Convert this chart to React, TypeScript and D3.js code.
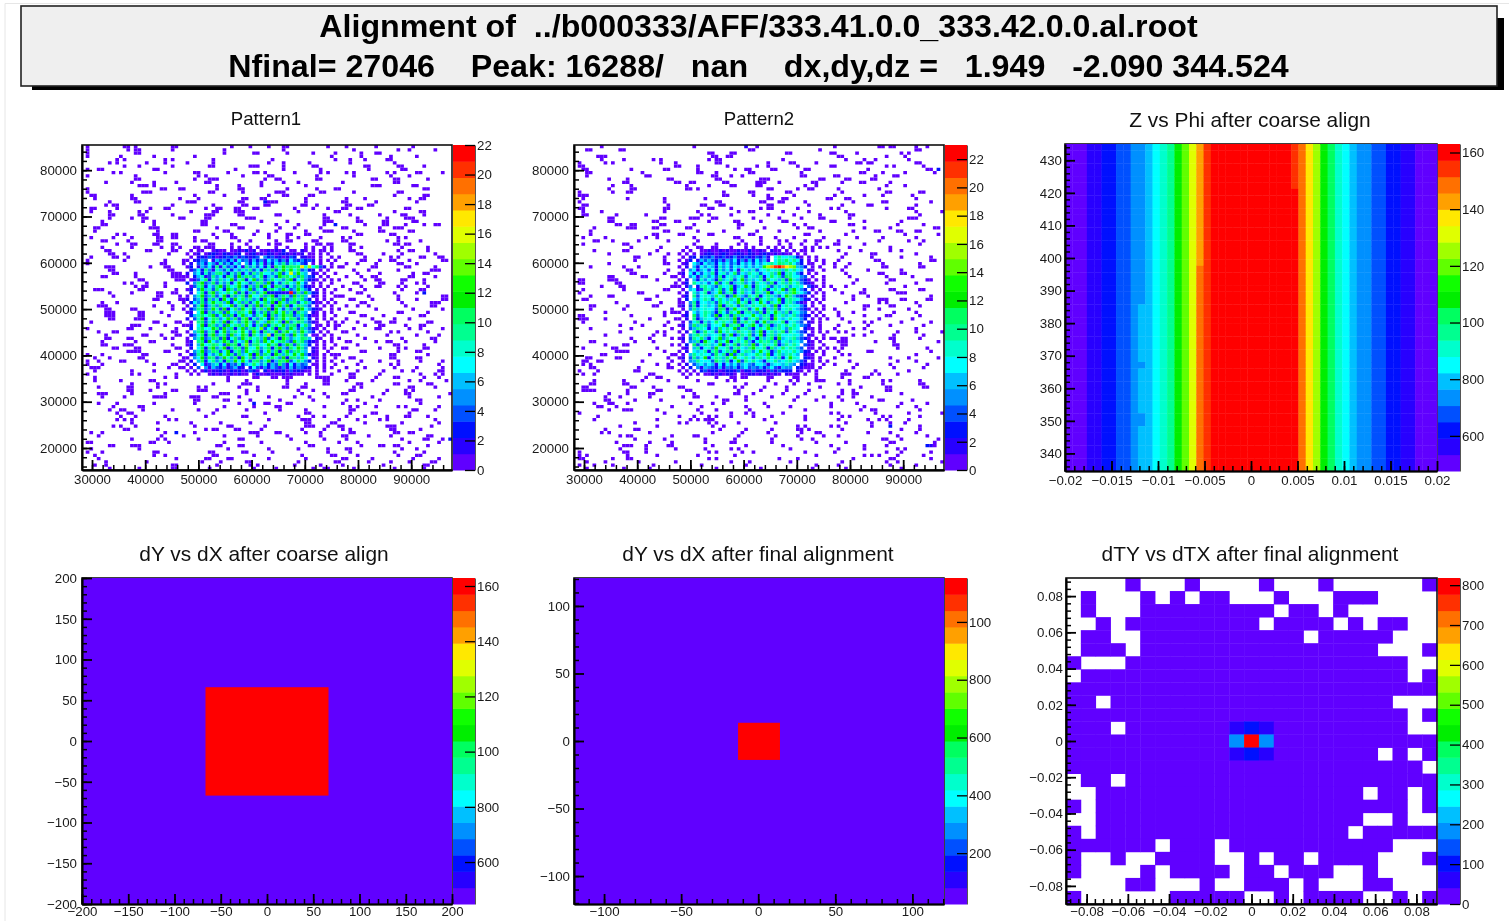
import React, { useRef, useEffect } from 'react'
import * as d3 from 'd3'

// ROOT rainbow palette, bottom band to top band
const bandColors = ['#6000ff', '#2800ff', '#0010ff', '#0050ff', '#0090ff', '#00c0ff', '#00ffff', '#00ffcc', '#00ff90', '#00ff60',
  '#00ee00', '#10ff00', '#60ff00', '#a0ff00', '#e0ff00', '#ffe800', '#ffa000', '#ff7000', '#ff3000', '#ff0000']

const titleLines = ['Alignment of  ../b000333/AFF/333.41.0.0_333.42.0.0.al.root',
  'Nfinal= 27046    Peak: 16288/   nan    dx,dy,dz =   1.949   -2.090 344.524']

const patternXTicks = [30000, 40000, 50000, 60000, 70000, 80000, 90000]
const patternYTicks = [20000, 30000, 40000, 50000, 60000, 70000, 80000]
const pattern1BarTicks = [0, 2, 4, 6, 8, 10, 12, 14, 16, 18, 20, 22]
const pattern2BarTicks = [0, 2, 4, 6, 8, 10, 12, 14, 16, 18, 20, 22]

// scattered single counts: one list of columns per row, top row first
const pattern1Sparse = [
  [1,11,12,14,24,25,40,45,50,54,55,66,71,79,89],[1,12,14,15,24,38,54,73,85,88,95],
  [1,14,15,38,46,47,55,62,68,75,79,80],[1,10,19,30,67,75,83,90],
  [9,11,22,24,35,51,68,72,76,82,83],[7,9,17,22,28,35,50,54,61,72,84],
  [11,15,24,34,35,45,46,47,54,62,63,76,77,85,86,92],[1,4,5,19,20,41,54,64,77,86,87],
  [8,10,22,30,31,39,46,47,49,57,64,66,71,73,82,84,90,91,97],[1,14,31,33,43,50,51,63,73,83,88],
  [14,15,30,34,35,36,49,52,53,63,64,78,79,84,85,93],[6,13,19,25,33,34,48,54,58,70,84,85],
  [15,16,17,19,36,42,48,60,78,79,80,89,90],[1,21,22,26,27,36,42,43,55,63,68,69,92,93],
  [1,16,17,18,34,35,43,52,53,54,64,65,73,85,86],[2,3,13,30,38,50,54,55,61,62,84,92,93],
  [3,13,14,26,31,43,44,48,49,60,71,76,88,91,92],[7,14,15,28,29,30,42,43,50,51,52,60,70,71,79,90],
  [6,8,9,24,35,43,44,49,50,59,60,63,71,72,77,78],[2,3,9,18,22,23,33,36,37,41,42,46,47,57,62,66,70,71,74,75,87,88],
  [2,7,15,17,29,35,36,41,42,43,58,68,69,84,91,92],[7,8,15,16,24,33,34,35,42,43,52,53,65,72,80,86,87,92],
  [7,13,16,17,26,27,33,34,44,45,46,65,66,74,82,87,88,89],[5,16,19,32,33,48,55,65,66,67,74,75,81,82,89,90],
  [5,6,19,32,33,40,41,52,58,65,76,81,82,87,92,95,96],[3,4,18,19,20,36,42,43,53,57,64,70,71,80,84,85,86],
  [3,20,30,31,38,39,47,52,60,65,66,67,73,80,81,88,89],[9,11,19,20,24,25,35,40,46,50,55,56,60,61,74,75,83,84],
  [2,8,13,20,21,24,25,30,36,40,41,50,55,58,64,70,72,85,87],[5,6,12,20,21,30,32,33,42,45,52,55,56,62,63,70,71,82,85,91],
  [9,13,14,19,20,24,25,34,35,40,44,50,52,53,60,63,64,66,67,72,73,84,85,87,88],[5,13,21,24,26,30,31,33,34,35,40,42,45,47,52,55,60,62,65,67,72,75,86,93],
  [6,7,17,18,24,25,72,73,85,88,89,93],[7,8,11,23,74,75,81,86,95],
  [2,8,9,12,69,76,83,85,91,92,96,97],[1,11,22,27,75,76,80,83,84,88,97,98],
  [1,21,22,27,71,74,79,85,86,90],[6,7,8,18,22,23,69,70,78,79,87,88,95],
  [7,8,23,24,73,77,85,94,95,96],[8,9,14,24,25,26,68,74,80,89,92,93],
  [5,6,14,24,25,26,27,71,75,78,79,88,89,95],[15,16,25,26,27,69,76,79,80,86,87,92],
  [11,13,17,22,73,74,80,81,86,90,92],[14,16,17,22,70,75,79,80,85,87,93],
  [3,4,5,15,16,25,68,72,76,86,91,92],[7,13,20,21,24,25,74,75,84,90],
  [8,20,21,26,69,70,77,85,97,98],[19,20,26,27,72,73,78,85,90,97,98],
  [5,9,23,27,68,75,76,86,94,95,96],[4,5,6,19,24,71,74,77,87,94,95],
  [6,7,13,14,24,27,69,79,89,97],[6,7,8,15,16,21,72,73,85,86,93],
  [6,7,8,15,16,23,68,75,76,81,91,92],[7,8,14,15,16,71,78,84,88],
  [2,19,20,25,26,70,74,79,80,83,84,93,94],[13,14,15,22,27,68,69,76,80,81,87,91,92],
  [1,12,13,18,25,73,79,80,88,91,97],[4,8,9,24,25,70,71,83,85,93],
  [6,16,17,21,25,26,67,74,82,90,96],[6,7,12,13,22,24,69,76,86,94,95],
  [5,14,18,19,28,71,72,79,82,83,87,95],[5,6,11,12,13,24,68,74,84,85,92],
  [8,9,14,15,25,26,70,71,80,85,87,92,93],[12,13,14,15,22,23,75,76,85,90,91],
  [1,5,16,17,26,68,69,83,84,93],[3,7,15,16,27,28,72,73,83,84,90,91],
  [1,4,10,11,17,26,27,70,75,80,85,91,97],[1,5,19,24,25,68,74,83,85,96],
  [2,3,4,23,26,27,71,76,84,90,97],[3,13,19,69,74,81,86,89,96,97],
  [1,13,15,25,72,73,80,91,95,97],[3,22,25,39,46,47,51,52,54,55,56,63,64,65,66,72,73,79,84,85,92,96],
  [3,10,18,19,39,44,55,65,66,71,78,88,91,98],[13,20,22,35,43,44,45,55,60,65,66,74,75,84,85,93,94],
  [4,12,13,20,31,33,42,47,54,55,59,60,73,75,88,89,95],[12,13,18,24,25,31,32,33,44,47,58,62,72,73,82,87,89],
  [4,5,6,13,22,37,38,39,44,59,65,70,71,81,87,88,99],[5,11,19,20,21,22,29,30,31,35,36,42,50,57,61,66,78,88,96],
  [30,31,38,39,45,53,62,71,74,80,90,91],[4,9,19,30,42,49,50,55,56,70,76,91],
  [8,15,16,38,46,52,53,65,72,74,79,85,87,96],[7,10,11,16,24,31,36,44,53,60,72,73,89,90,95],
  [9,12,13,35,49,60,61,72,78,79,88],[10,14,22,33,43,44,58,62,65,71,76,82,87,88,93],
  [9,11,13,23,25,50,59,60,61,69,74,80,82,95],[13,20,29,37,45,60,61,67,68,76,86,96],
  [8,10,14,30,39,40,49,60,61,62,66,69,70,82,83,84,94],[11,12,20,33,35,36,41,42,48,59,65,70,72,83,84,91],
  [2,5,22,30,45,46,47,52,53,60,64,72,73,84,85,88,89],[4,21,27,38,47,55,64,70,71,77,83,93,94],
  [13,20,22,31,42,43,56,65,71,86,92,93,97],[1,2,18,19,23,38,48,60,69,74,88,96],
  [7,8,13,14,15,36,37,42,43,61,62,75,80,81,84,85,93],[2,15,39,50,58,66,71,72,86,90],
  [1,5,19,20,34,35,43,44,51,66,72,84,92],[3,19,22,35,36,46,59,67,68,74,85,90,91],
  [4,25,33,34,39,40,50,60,70,71,78,89,96],[6,17,32,37,44,45,58,68,69,77,83,88,94,95],
  [3,6,24,25,36,45,47,57,64,70,81,92,93],[7,15,24,25,34,46,52,62,65,66,73,84,92],
]
const pattern2Sparse = [
  [7,32,46,49,70,82,83,85,86,92,95],[3,4,12,13,47,48,66,92,93],
  [36,37,42,43,57,58,69,70,76,88,90],[6,7,8,37,38,41,42,71,72,84,89],
  [7,13,21,23,36,38,39,56,73,78,81,90],[1,8,10,23,27,38,39,52,58,59,65,76,77,79,80,92,93],
  [1,2,27,28,33,41,49,52,60,69,70,84,86,94],[2,3,15,24,25,33,43,46,47,53,54,62,63,79,95,96],
  [3,4,18,33,34,38,47,48,61,77,78,83,89,97],[3,19,20,37,38,42,45,61,62,70,71,81,86,87],
  [9,14,25,26,38,39,50,51,52,66,67,73,74,80,81],[13,14,27,28,31,32,40,41,49,50,51,55,64,65,72,77,78,85],
  [10,15,30,36,42,43,49,50,62,65,84,89],[9,15,16,30,31,33,52,53,60,63,64,71,82],
  [1,10,14,15,40,47,48,57,58,72,84,85,93,94],[1,2,3,40,41,48,52,59,70,78,83,91],
  [2,14,24,35,52,53,56,57,68,69,73,74,92],[1,24,38,39,50,51,55,56,62,75,83,84,96],
  [2,3,25,34,35,39,40,52,53,63,72,79,80,92],[1,2,24,25,36,37,42,50,52,53,60,69,71,84,90,91],
  [2,7,24,33,44,47,48,56,63,73,92,99],[2,3,11,19,34,36,42,52,59,66,74,75,93],
  [9,10,23,24,31,32,33,37,38,48,55,61,66,67,74,90,91,92],[9,10,21,22,27,28,36,43,44,50,56,57,69,70,78,88],
  [11,12,15,16,23,24,32,44,45,59,62,74,75,87,94],[5,14,15,16,21,22,30,31,44,51,60,63,64,78,85,97,98],
  [4,24,25,33,40,49,55,66,75,81,82,87,88,92,93],[4,21,22,28,29,36,37,47,48,62,63,73,89,98],
  [2,8,19,22,32,43,44,50,54,59,67,76,83,92],[5,6,10,17,25,33,45,50,55,57,62,65,66,71,82,90,94],
  [2,13,14,32,38,44,46,50,55,58,61,65,70,71,78,93],[15,23,30,33,34,37,38,42,46,48,52,54,56,58,62,64,66,68,74,85],
  [5,13,14,22,71,77,85,88],[9,20,25,73,80,81,92],
  [16,17,24,72,80,88,96],[16,24,71,81,82,96,97],
  [9,24,25,70,74,83,93],[4,13,17,70,73,83,84,93,94],
  [14,15,25,72,79,88],[15,16,24,73,82,83,88,89],
  [9,10,18,19,26,27,74,84,91],[1,2,9,10,11,22,76,85,86,95,96],
  [1,2,11,12,27,75,84,92],[7,12,13,26,27,69,73,89],
  [2,13,24,25,70,78,85,86,93,94],[1,17,18,72,77,78,87,88,89],
  [4,9,10,22,75,79,96],[2,3,19,20,75,82,83,84,88,89,95,96],
  [11,23,28,29,73,82,84,92],[4,5,14,21,22,78,79,85,86,93],
  [4,13,26,70,78,82,90],[8,24,26,27,71,75,86,92],
  [1,2,15,24,71,78,84,85,93],[1,2,3,8,20,27,28,72,82,91],
  [2,16,25,74,78,80,88,96],[12,18,24,71,79,85,94],
  [4,15,26,70,75,78,92],[12,22,24,71,73,80,87,92,99],
  [8,21,24,75,78,86,94],[15,20,26,69,70,72,73,85,86,93],
  [4,5,16,21,71,72,73,81,86,98],[8,13,14,26,72,73,86,87],
  [2,10,11,22,70,72,87,95],[11,12,13,14,24,71,79,80,96],
  [7,8,20,26,27,72,74,92],[3,4,11,12,25,70,85,90,98],
  [2,3,6,7,18,26,74,87,92],[2,4,22,25,70,76,85,95],
  [4,5,17,25,26,75,86,94],[1,6,16,17,28,73,81,90],
  [2,5,20,21,72,73,74,80,82,87],[19,22,23,30,38,42,43,45,46,52,53,59,60,65,72,78,79],
  [5,13,18,25,33,41,43,52,58,60,65,66,67,74,83,85,93],[4,5,13,14,36,37,46,54,59,63,71,74,83,93,94],
  [2,3,15,16,21,28,29,43,45,51,57,66,77,84,85,94,95],[2,3,4,5,14,22,23,30,31,44,50,57,63,72,75,84,85],
  [9,14,20,21,32,43,44,48,56,62,72,75,76,88],[8,12,20,29,32,33,38,46,53,60,67,71,75,80],
  [8,9,16,23,40,41,46,59,65,72,82,83,91],[5,9,10,14,31,37,40,51,69,76,88,95],
  [6,7,11,26,34,46,52,58,69,78,87,92],[9,13,14,15,22,33,38,47,62,77,80,81,93],
  [1,24,34,42,46,48,56,69,71,81,90,99],[6,28,32,36,38,42,48,53,62,72,74,83,85,93],
  [5,22,31,33,35,36,37,51,62,71,79,82,84,90],[16,28,30,36,38,44,54,73,80,85,89],
  [12,22,37,40,60,62,69,71,80,93],[8,16,17,39,46,53,60,61,63,72,88,93],
  [7,9,20,37,45,52,61,65,66,79,85,92],[12,14,15,26,32,33,44,54,60,67,71,87,95],
  [16,24,35,43,53,61,64,83,84,88,98],[11,20,26,35,42,43,53,65,73,85,86,97],
  [13,14,15,19,25,26,37,46,56,69,78,84,96,97],[12,19,27,35,42,44,58,71,78,87,89],
  [1,13,14,19,36,38,45,48,62,70,84,88,96],[1,3,14,22,33,43,65,78,80,82,87,94],
  [1,2,10,14,15,36,38,55,60,75,85,86,96],[3,8,17,27,42,47,58,72,84,87,99],
  [1,5,10,21,34,46,65,71,85,92],[3,13,20,38,50,64,73,88],
]

// a few scattered cells above one count: [row, column, count]
const pattern1Extras = [[17, 49, 3], [24, 68, 3], [79, 46, 3], [88, 25, 3], [90, 99, 3], [45, 92, 3]]
const pattern2Extras = [[0, 46, 2], [7, 98, 3], [86, 85, 3], [92, 95, 3], [92, 96, 2]]

// dense square, rows 32..70 and columns 28..68, base 36 counts
const coreFirstRow = 32
const coreFirstCol = 28
const pattern1Core = [
  '.1.11..1211.1121312.1121213.11.21.1.11.1.', '1.12.1232132123.1231213212321212.11.1.1..',
  '.1.23243123435243234.534231243.2211.1..1.', '1.2354.2645362745263527463527435342.1.1.1',
  '.2.463752846375.63748263759486743.1.1..1.', '13.264739284637295847382a8c9a9ah8f7a42.1.',
  '.2473952864837586947396a48c8b7a4632.1.1..', '2.5738469a6385a37496a7758b47g6c86.21.1..1',
  '1.368249573a84c6a957a3684b9a7a5a643.1.1..', '.1247a385967b48a37c5946a7859b37a5321.1.1.',
  '3.59c46a485937b7846a95c3748a76b74.1.1..1.', '.148a3759c4a78b6395a4c72a96385a6321.1.1..',
  '13.5b684a73c95a76b48739a75c846b853.1.1..1', '.2.7a39c587a7b4936a58c333322m4a5b632.1.1.',
  '1.58b46a47c3958a4b77a59c36a84b6a6.21.1..1', '2.46a39583b74c7a69583b7a95c46a8a53.1.1.1.',
  '.375a48c896b37a5948c7a6b3d859a47a6311.1..', '1.48b3695a77c48a395b4a829c6b37a964.1.1.1.',
  '.359a46c84b37a5c7948a6b3c7485a4b75321..1.', '12.7c3958a4b76a97c385a49b7d693a86.21.1.1.',
  '.368a79b47c5a38b67497c3a58b9a46a5311.1..1', '2.48b37a957c6a49d385a73b68c7a94a73.1.1.1.',
  '.1.9a48c86b3a759c84a76b97a3c58a96421..1.1', '12.7c3a9584b79a6d7385c48a7b69a37a5.11.1..',
  '.3.8a77b94c6a38b59a7e47a3c95b84a6421.1..1', '1.69b48a37c59a7b74d83a68c49b7a6b853.1.1..',
  '.247a39c58a4b67c93a758f3a9b64c7a5.11.1.1.', '1.58c46a94b37a5c8a796b47a3d9587a96.21..1.',
  '.2.9a3c758b94a76d38a5b7c79a64b8a5321.1.1.', '13.6b78a974c9a38e59a77b8a36c94a863.1.1..1',
  '.2.7a39b58c36a94b77d58a39c64a7b95.21.1.1.', '1.58c46a947b38a5c79a47d6a38b59a86.21..1..',
  '.249a3758b7c94a67b3d5a83c96a7b7c5311.1.1.', '1.57b4a946c85a3b7a49c76a85b3a96a7.21.1..1',
  '.2.6a379583a6b7c749a58b36a9c47a853.1.1.1.', '1.3.72468372548367a758364a5273645.11.1..1',
  '.1.4.52643524632.37425364252635432.1.1.1.', '1.1.1312232132312431.3123231423211.1.1...',
  '.1.1..12121121211.13112111212111.1.1...1.',
]
const pattern2Core = [
  '.1.1..112112121121131121.211.1.1.11.1....', '1.1.1.1232123212321321232121211.1.1......',
  '.1.23.3435234235234324352.7a879631.1.1...', '1.13.26464352647352637462.8a9b8a73.1.1.1.',
  '.12.753756385746385747589a8ba9b853.11..1.', '1.2.6375863958476857586dfjlmkige653.1.1..',
  '.1.57268473958472a869478a79a6b7a86.21..1.', '12.737486a37958b486a79478a6c39a753.1.1...',
  '.1.58269574a37968a4796a37b8a4ba7754.1..1.', '1.2.6395863b67a48c5968a3b796a4c96431.1.1.',
  '.13.a76847c47a369a584a795b38a6b7a5321..1.', '1.25.39a764a87b368c93a78b4968a5798.421.1.',
  '.1.6724a958b47c38a695a7b38a7c4ac753.1.1..', '1.2.957a368c49a37b684a96c38a76ad9753.1.1.',
  '.13.a47976b8a35c964a7b38a9648ca6432.1..1.', '1.3.857a947b76a8c495a3b7a68c39a97532.1.1.',
  '.1.5a387694b7a76c8a397c84a7b39a6421.1.1..', '12.4a379685c39a74b68a79b85c37a89753.1..1.',
  '.1.5a689774ba36c89a47d83a6b479a76431.1.1.', '1.2.758a963b74a8c39a65b3a8c96a49754.1.1..',
  '.13.b47a85c39a4b6a78c76a93b8a68a6432.1.1.', '1.2.a369784b9a6c384a7b59a3d867a8753.1.1.1',
  '.1.47a3958b7a86c49b7a38c6a97b38964.21.1..', '12.5b69a4877c4a9b38ac749b36a8a7a7542..1..',
  '.1.46a97385b7a7c49a638a7d69a75b97.311.1..', '1.2.a36b794c8a76b97a59c38a69b4a8643.1.1.1',
  '.1.59b7a687a49c36a8b47c39a6b787975.21..1.', '12.4a8b6379c5a77b94a83a69b3c679a6431.1.1.',
  '.1.56a3c974a8c39a7b638b9a6b4796975.21.1..', '1.3.b48a967c3a8b49a6c48a97b36a7a8.421..1.',
  '.12.6a3795c87a49b76ac98a3b68b7a964.11.1.1', '1.2.768a39b48a6c37a958c7a36b798a7532.1.1.',
  '.1.6a89774b7a3c49a687b96d38a69a86.211..1.', '12.4a57c38a96b7c78a759a7b86a37c97.321.1..',
  '.1.56a8774b96a38c4a7a86398a679a8642.1.1.1', '1.2.4675862738574685478626786965.3211..1.',
  '.1.3.52654362546357454635742655.32111.1..', '1.1.1.3423312332413243231424333.21.1.1...',
  '.1.1.1.112121221.11221212121.2111.1..1...',
]

// Z vs Phi: one value per phi column, and the few rows that step down a band
const zPhiXTicks = [-0.02, -0.015, -0.01, -0.005, 0, 0.005, 0.01, 0.015, 0.02]
const zPhiYTicks = [340, 350, 360, 370, 380, 390, 400, 410, 420, 430]
const zPhiBarTicks = [600, 800, 1000, 1200, 1400, 1600]
const zPhiRowCount = 51
const zPhiColumns = [505, 500, 510, 563, 570, 620, 625, 678, 680, 736, 740, 793, 851, 909, 967, 1082, 1197, 1313, 1486, 1543,
  1605, 1612, 1620, 1625, 1630, 1630, 1628, 1622, 1618, 1610, 1604, 1604, 1486, 1370, 1255, 1082, 1024, 909, 851, 793,
  736, 730, 678, 670, 620, 615, 563, 555, 510, 505, 500]
// [column, first row, last row, value]
const zPhiSteps = [[18, 0, 18, 1428], [31, 0, 6, 1543], [10, 25, 33, 793], [10, 35, 41, 793], [10, 44, 50, 793]]

const coarseXTicks = [-200, -150, -100, -50, 0, 50, 100, 150, 200]
const coarseYTicks = [-200, -150, -100, -50, 0, 50, 100, 150, 200]
const coarseBarTicks = [600, 800, 1000, 1200, 1400, 1600]
const coarseBackground = 460
const coarsePeak = { value: 1629, x: [-66.5, 66.5], y: [-67, 66] }

const finalXTicks = [-100, -50, 0, 50, 100]
const finalYTicks = [-100, -50, 0, 50, 100]
const finalBarTicks = [200, 400, 600, 800, 1000]
const finalBackground = 40
const finalPeak = { value: 1150, x: [-13.1, 14.1], y: [-14, 13.5] }

const dtXTicks = [-0.08, -0.06, -0.04, -0.02, 0, 0.02, 0.04, 0.06, 0.08]
const dtYTicks = [-0.08, -0.06, -0.04, -0.02, 0, 0.02, 0.04, 0.06, 0.08]
const dtBarTicks = [0, 100, 200, 300, 400, 500, 600, 700, 800]
// . empty, p one low count, then the central cells
const dtCounts = { p: 15, a: 60, b: 100, c: 184, r: 810 }
const dtRows = [
  '....p...p....p...p......p', '.p...p.p.pp...p...ppp....', '.p...ppppppppp.pp.p......', '..p.ppppppppp.pppp.p.pp..',
  '.pp..ppppppppppp.ppppp...', '.ppp.pppppppppppppppp...p', 'p...ppppppppppppppppppp..', '.pppppppppppppppppppppp.p',
  'ppppppppppppppppppppppppp', 'pp.ppppppppppppppppppp...', 'ppppppppppppppppppppppp.p', 'ppp.pppppppabappppppppp..',
  'pppppppppppcrcppppppppppp', 'pppppppppppabappppppp.p.p', 'pppppppppppppppppppppppp.', '.pp.ppppppppppppppppppppp',
  '..pppppppppppppppppp.pp.p', 'p.ppppppppppppppppppppp.p', '..pppppppppppppppppp..p..', 'p.ppppppppppppppppp.ppppp',
  'pppppp.ppp.ppppppppppp...', 'p..p..pppp..p.pp.pppp...p', 'p....p.pppp.pp.ppp..p....', '....pp...p..ppp.p...pp...', 'p......ppppp..p.pppp..p.p',
]

// through a d3 axis, ROOT style: ticks pointing into the frame
function styleAxis(g, axis, width = 1.5) {
  g.call(axis)
  g.attr('font-family', 'Liberation Sans, Arial, sans-serif').attr('font-size', 13.3)
  g.selectAll('line').attr('stroke', '#000').attr('stroke-width', width)
  g.selectAll('path').attr('stroke', '#000').attr('stroke-width', width)
  g.selectAll('text').attr('fill', '#1a1a1a')
}

const minus = (v) => String(v).replace('-', '\u2212')
const minorsOf = (ticks, domain) => {
  const step = (ticks[1] - ticks[0]) / 5
  const lo = Math.min(domain[0], domain[1])
  const hi = Math.max(domain[0], domain[1])
  const first = ticks[0] - step * Math.floor((ticks[0] - lo) / step)
  return d3.range(first, hi + step * 0.01, step).filter((v) => v >= lo && v <= hi)
}

function drawPanel(svg, p) {
  const g = svg.append('g')
  const x = d3.scaleLinear().domain(p.xDomain).range([p.left, p.right])
  const y = d3.scaleLinear().domain(p.yDomain).range([p.bottom, p.top])
  const color = d3.scaleQuantize().domain(p.barDomain).range(bandColors)
  const clampColor = (v) => color(Math.min(v, p.barDomain[1] - 1e-6))

  const frame = () =>
    g.append('rect').attr('x', p.left).attr('y', p.top).attr('width', p.right - p.left).attr('height', p.bottom - p.top)
      .attr('fill', 'none').attr('stroke', '#111').attr('stroke-width', 1.6)

  if (!p.frameOnTop) frame()
  p.draw(g, x, y, clampColor)
  if (p.frameOnTop) frame()

  // palette
  const barY = d3.scaleLinear().domain(p.barDomain).range([p.bottom, p.top])
  const bandWidth = (p.barDomain[1] - p.barDomain[0]) / bandColors.length
  g.append('g').selectAll('rect').data(bandColors).join('rect')
    .attr('x', p.right + 1).attr('width', 22)
    .attr('y', (d, i) => barY(p.barDomain[0] + (i + 1) * bandWidth))
    .attr('height', (d, i) => barY(p.barDomain[0] + i * bandWidth) - barY(p.barDomain[0] + (i + 1) * bandWidth) + 0.5)
    .attr('fill', (d) => d)

  // axes
  const leftAt = `translate(${p.left},0)`
  const bottomAt = `translate(0,${p.bottom})`
  styleAxis(g.append('g').attr('transform', leftAt),
    d3.axisLeft(y).tickValues(minorsOf(p.yTicks, p.yDomain)).tickSizeInner(-5).tickSizeOuter(0).tickFormat(() => ''))
  styleAxis(g.append('g').attr('transform', bottomAt),
    d3.axisBottom(x).tickValues(minorsOf(p.xTicks, p.xDomain)).tickSizeInner(-5).tickSizeOuter(0).tickFormat(() => ''))
  styleAxis(g.append('g').attr('transform', leftAt),
    d3.axisLeft(y).tickValues(p.yTicks).tickSizeInner(-10).tickSizeOuter(0).tickPadding(p.yPad).tickFormat(minus), 1.8)
  styleAxis(g.append('g').attr('transform', bottomAt),
    d3.axisBottom(x).tickValues(p.xTicks).tickSizeInner(-10).tickSizeOuter(0).tickPadding(p.xPad).tickFormat(minus), 1.8)
  const barAxis = g.append('g').attr('transform', `translate(${p.right + 23},0)`)
  styleAxis(barAxis,
    d3.axisRight(barY).tickValues(p.barTicks).tickSizeInner(-10).tickSizeOuter(0).tickPadding(2)
      .tickFormat((v) => (v >= 1000 ? String(v / 10) : String(v))), 1.3)
  barAxis.select('path').attr('stroke', '#555').attr('stroke-width', 1)

  g.append('text').attr('x', p.titleX).attr('y', p.titleY).attr('text-anchor', 'middle')
    .attr('font-family', 'Liberation Sans, Arial, sans-serif').attr('font-size', p.titleSize).attr('fill', '#111').text(p.title)
}

// 100x100 bin panels, built from the sparse lists and the dense core
function patternCells(sparse, core, extras) {
  const cells = new Map()
  sparse.forEach((cols, r) => cols.forEach((c) => cells.set(`${r}:${c}`, { r, c, v: 1 })))
  core.forEach((line, i) => {
    for (let k = 0; k < line.length; k++) {
      if (line[k] === '.') continue
      const r = i + coreFirstRow
      const c = k + coreFirstCol
      cells.set(`${r}:${c}`, { r, c, v: parseInt(line[k], 36) })
    }
  })
  extras.forEach(([r, c, v]) => cells.set(`${r}:${c}`, { r, c, v }))
  return Array.from(cells.values())
}

function drawPattern(cells) {
  return (g, x, y, color) => {
    const col = d3.scaleLinear().domain([0, 100]).range(x.range())
    const row = d3.scaleLinear().domain([0, 100]).range([y.range()[1], y.range()[0]])
    g.append('g').selectAll('rect').data(cells).join('rect')
      .attr('x', (d) => col(d.c)).attr('y', (d) => row(d.r))
      .attr('width', col(1) - col(0)).attr('height', row(1) - row(0))
      .attr('fill', (d) => color(d.v))
  }
}

function drawBoxPanel(background, peak) {
  return (g, x, y, color) => {
    const [x0, x1] = x.domain()
    const [y0, y1] = y.domain()
    const boxes = [{ x: [x0, x1], y: [y0, y1], value: background }, peak]
    g.append('g').selectAll('rect').data(boxes).join('rect')
      .attr('x', (d) => x(d.x[0])).attr('width', (d) => x(d.x[1]) - x(d.x[0]))
      .attr('y', (d) => y(d.y[1])).attr('height', (d) => y(d.y[0]) - y(d.y[1]))
      .attr('fill', (d) => color(d.value))
  }
}

function drawZPhi(g, x, y, color) {
  const col = d3.scaleLinear().domain([0, zPhiColumns.length]).range(x.range())
  const row = d3.scaleLinear().domain([0, zPhiRowCount]).range([y.range()[1], y.range()[0]])
  const cells = []
  zPhiColumns.forEach((v, c) => {
    d3.range(zPhiRowCount).forEach((r) => {
      const step = zPhiSteps.find((s) => s[0] === c && r >= s[1] && r <= s[2])
      cells.push({ c, r, v: step ? step[3] : v })
    })
  })
  g.append('g').selectAll('rect').data(cells).join('rect')
    .attr('x', (d) => col(d.c)).attr('y', (d) => row(d.r))
    .attr('width', col(1) - col(0) + 0.4).attr('height', row(1) - row(0) + 0.4)
    .attr('fill', (d) => color(d.v))
}

function drawDt(g, x, y, color) {
  const col = d3.scaleLinear().domain([0, dtRows[0].length]).range(x.range())
  const row = d3.scaleLinear().domain([0, dtRows.length]).range([y.range()[1], y.range()[0]])
  const cells = []
  dtRows.forEach((line, r) => line.split('').forEach((ch, c) => {
    if (ch !== '.') cells.push({ c, r, v: dtCounts[ch] })
  }))
  g.append('g').selectAll('rect').data(cells).join('rect')
    .attr('x', (d) => col(d.c)).attr('y', (d) => row(d.r))
    .attr('width', col(1) - col(0) + 0.4).attr('height', row(1) - row(0) + 0.4)
    .attr('fill', (d) => color(d.v))
}

export default function App() {
  const svgRef = useRef(null)

  useEffect(() => {
    const svg = d3.select(svgRef.current)
    svg.selectAll('*').remove()

    svg.append('path').attr('d', 'M5,921V3.5H1509').attr('fill', 'none').attr('stroke', '#e6e6e6').attr('stroke-width', 1)

    // title box with its drop shadow
    svg.append('rect').attr('x', 32).attr('y', 18).attr('width', 1472).attr('height', 72).attr('fill', '#000')
    svg.append('rect').attr('x', 21).attr('y', 6).attr('width', 1476).attr('height', 80)
      .attr('fill', '#efefef').attr('stroke', '#222').attr('stroke-width', 1.6)
    titleLines.forEach((line, i) => {
      svg.append('text').attr('x', 758.5).attr('y', 37 + i * 39.5).attr('text-anchor', 'middle')
        .attr('font-family', 'Liberation Sans, Arial, sans-serif').attr('font-weight', 'bold').attr('font-size', 32.2)
        .attr('fill', '#000').style('white-space', 'pre').text(line)
    })

    const top = { top: 145, bottom: 470, xPad: 5, titleY: 125 }
    const low = { top: 578, bottom: 904, xPad: 3, titleY: 561 }
    const patternAxes = { xDomain: [28120, 97670], yDomain: [15250, 85440], xTicks: patternXTicks, yTicks: patternYTicks, yPad: 5, titleSize: 18.6, frameOnTop: true }

    const panels = [
      { ...top, ...patternAxes, left: 82, right: 452, title: 'Pattern1', titleX: 266, barDomain: [0, 22], barTicks: pattern1BarTicks,
        draw: drawPattern(patternCells(pattern1Sparse, pattern1Core, pattern1Extras)) },
      { ...top, ...patternAxes, left: 574, right: 944, title: 'Pattern2', titleX: 759, barDomain: [0, 23], barTicks: pattern2BarTicks,
        draw: drawPattern(patternCells(pattern2Sparse, pattern2Core, pattern2Extras)) },
      { ...top, top: 144, bottom: 471, left: 1065, right: 1437, xDomain: [-0.02, 0.02], yDomain: [334.6, 435], xTicks: zPhiXTicks, yTicks: zPhiYTicks, yPad: 3,
        title: 'Z vs Phi after coarse align', titleX: 1250, titleY: 127, titleSize: 20.9, barDomain: [476, 1630], barTicks: zPhiBarTicks, draw: drawZPhi },
      { ...low, left: 82, right: 452, xDomain: [-200, 200], yDomain: [-200, 200], xTicks: coarseXTicks, yTicks: coarseYTicks, yPad: 5,
        title: 'dY vs dX after coarse align', titleX: 264, titleSize: 20.9, barDomain: [448, 1629], barTicks: coarseBarTicks,
        draw: drawBoxPanel(coarseBackground, coarsePeak) },
      { ...low, left: 574, right: 944, xDomain: [-119.5, 120.5], yDomain: [-120.7, 120.7], xTicks: finalXTicks, yTicks: finalYTicks, yPad: 4,
        title: 'dY vs dX after final alignment', titleX: 758, titleSize: 20.9, barDomain: [24, 1152], barTicks: finalBarTicks,
        draw: drawBoxPanel(finalBackground, finalPeak) },
      { ...low, left: 1066, right: 1437, xDomain: [-0.09, 0.09], yDomain: [-0.09, 0.09], xTicks: dtXTicks, yTicks: dtYTicks, yPad: 3, frameOnTop: true,
        title: 'dTY vs dTX after final alignment', titleX: 1250, titleSize: 20.9, barDomain: [0, 818], barTicks: dtBarTicks, draw: drawDt },
    ]
    panels.forEach((p) => drawPanel(svg, p))
  }, [])

  return (
    <svg ref={svgRef} width={1509} height={921}
      style={{ position: 'absolute', left: 0, top: 0, background: '#fff', filter: 'blur(0.4px)' }} />
  )
}
